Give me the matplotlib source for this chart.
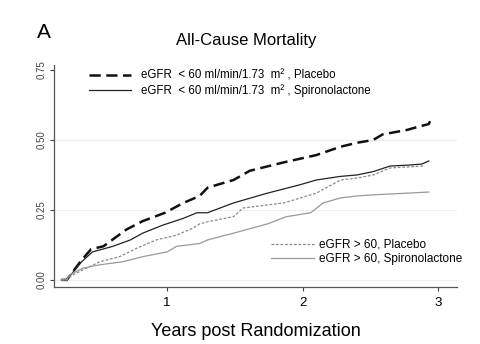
import numpy as np
import matplotlib.pyplot as plt

# Cumulative all-cause mortality by eGFR group and treatment arm
t_lo_pbo = [0.22, 0.26, 0.37, 0.44, 0.53, 0.70, 0.82, 0.985, 1.12, 1.24, 1.30, 1.49, 1.61,
            1.86, 2.10, 2.28, 2.40, 2.52, 2.59, 2.77, 2.85, 2.93, 2.94]
v_lo_pbo = [0.0, 0.0, 0.071, 0.11, 0.12, 0.18, 0.21, 0.24, 0.275, 0.30, 0.33, 0.357, 0.39,
            0.42, 0.446, 0.476, 0.49, 0.50, 0.52, 0.536, 0.547, 0.557, 0.567]

t_lo_spi = [0.22, 0.26, 0.37, 0.45, 0.60, 0.73, 0.82, 0.97, 1.12, 1.22, 1.30, 1.32, 1.49,
            1.74, 1.98, 2.10, 2.28, 2.40, 2.52, 2.645, 2.77, 2.88, 2.93]
v_lo_spi = [0.0, 0.0, 0.065, 0.10, 0.12, 0.143, 0.167, 0.196, 0.22, 0.24, 0.24, 0.244, 0.275,
            0.31, 0.34, 0.357, 0.37, 0.375, 0.387, 0.407, 0.41, 0.414, 0.425]

t_hi_pbo = [0.22, 0.26, 0.28, 0.38, 0.505, 0.65, 0.78, 0.92, 1.07, 1.19, 1.24, 1.30, 1.49,
            1.56, 1.86, 2.10, 2.28, 2.40, 2.52, 2.645, 2.89]
v_hi_pbo = [0.0, 0.0, 0.012, 0.036, 0.065, 0.083, 0.114, 0.143, 0.16, 0.185, 0.20, 0.208, 0.226,
            0.257, 0.275, 0.31, 0.357, 0.364, 0.375, 0.40, 0.407]

t_hi_spi = [0.22, 0.26, 0.28, 0.38, 0.505, 0.675, 0.82, 1.0, 1.07, 1.24, 1.30, 1.49, 1.74,
            1.88, 2.06, 2.15, 2.28, 2.40, 2.52, 2.77, 2.93]
v_hi_spi = [0.0, 0.0, 0.018, 0.042, 0.054, 0.065, 0.083, 0.10, 0.12, 0.13, 0.143, 0.167, 0.20,
            0.226, 0.24, 0.275, 0.293, 0.30, 0.304, 0.31, 0.314]

xticks = [1, 2, 3]
yticks = [0.0, 0.25, 0.5, 0.75]

plt.rcParams['font.family'] = ['Liberation Sans', 'DejaVu Sans']

fig = plt.figure(figsize=(4.8, 3.44), dpi=100)
ax = fig.add_axes([0.1125, 0.166, 0.84, 0.645])

for y in [0.0, 0.25, 0.5]:
    ax.axhline(y, color='#eeeeee', lw=0.8, zorder=0)

l1, = ax.plot(t_lo_pbo, v_lo_pbo, color='#111111', lw=1.8, ls=(0, (4.5, 2.2)))
l2, = ax.plot(t_lo_spi, v_lo_spi, color='#222222', lw=0.9)
l3, = ax.plot(t_hi_pbo, v_hi_pbo, color='#8a8a8a', lw=0.9, ls=(0, (2.2, 1.4)))
l4, = ax.plot(t_hi_spi, v_hi_spi, color='#999999', lw=0.9)

ax.set_xlim(0.166, 3.14)
ax.set_ylim(-0.025, 0.768)
ax.set_xticks(xticks)
ax.set_xticklabels([str(x) for x in xticks], fontsize=9.5)
ax.set_yticks(yticks)
ax.set_yticklabels(['%.2f' % y for y in yticks], rotation=90, va='center',
                   fontsize=7, color='#444444')
ax.tick_params(length=3, width=0.8, color='#444444', pad=2)
ax.tick_params(axis='x', pad=4)
for s in ['top', 'right']:
    ax.spines[s].set_visible(False)
for s in ['left', 'bottom']:
    ax.spines[s].set_color('#555555')
    ax.spines[s].set_linewidth(0.9)

ax.set_xlabel('Years post Randomization', fontsize=13, labelpad=10)

leg1 = ax.legend([l1, l2],
                 ['eGFR  < 60 ml/min/1.73  m\u00b2 , Placebo',
                  'eGFR  < 60 ml/min/1.73  m\u00b2 , Spironolactone'],
                 loc='upper left', bbox_to_anchor=(0.07, 1.01), frameon=False,
                 fontsize=8.3, handlelength=3.6, handletextpad=0.9,
                 labelspacing=0.2, borderaxespad=0.2)
ax.add_artist(leg1)
ax.legend([l3, l4], ['eGFR > 60, Placebo', 'eGFR > 60, Spironolactone'],
          loc='lower right', bbox_to_anchor=(1.04, 0.05), frameon=False,
          fontsize=8.5, handlelength=3.6, handletextpad=0.5, labelspacing=0.2)

fig.text(0.513, 0.883, 'All-Cause Mortality', fontsize=12, ha='center', va='center')
fig.text(0.092, 0.905, 'A', fontsize=15, ha='center', va='center')

fig.savefig('out.png', dpi=100)
